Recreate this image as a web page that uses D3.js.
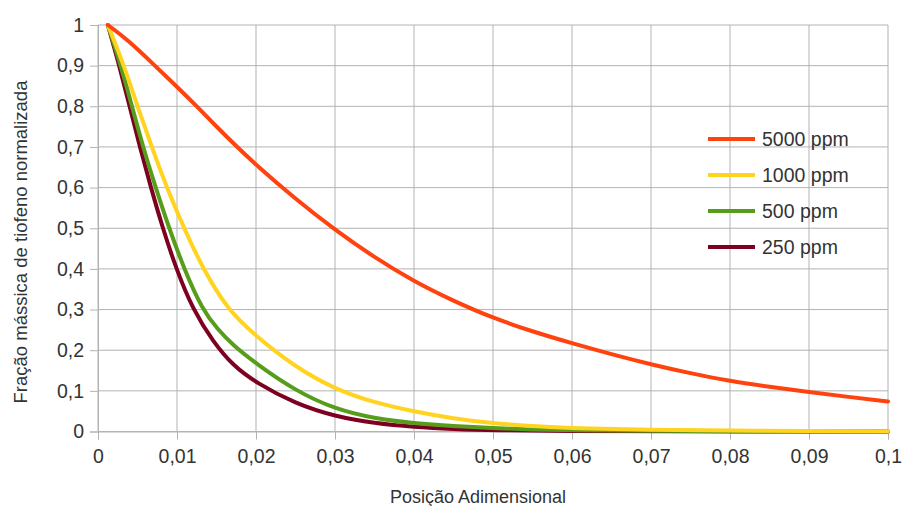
<!DOCTYPE html>
<html>
<head>
<meta charset="utf-8">
<script src="https://cdn.jsdelivr.net/npm/d3@7"></script>
<style>
  html, body { margin: 0; padding: 0; background: #ffffff; }
  svg { display: block; }
  text { font-family: "Liberation Sans", Arial, sans-serif; fill: #333333; }
</style>
</head>
<body>
<svg id="chart" width="903" height="506"></svg>
<script>
// ---- data ----
const seriesNames = ["5000 ppm", "1000 ppm", "500 ppm", "250 ppm"];
const seriesColors = ["#ff420e", "#ffd320", "#579d1c", "#7e0021"];

const x5000 = [0.00125, 0.0038, 0.0072, 0.01, 0.0125, 0.015, 0.0175, 0.02, 0.025, 0.03, 0.035, 0.04, 0.045, 0.05, 0.055, 0.06, 0.065, 0.07, 0.075, 0.08, 0.085, 0.09, 0.095, 0.1];
const y5000 = [1.0, 0.963, 0.90, 0.848, 0.80, 0.750, 0.702, 0.656, 0.572, 0.496, 0.428, 0.369, 0.321, 0.279, 0.246, 0.217, 0.190, 0.165, 0.143, 0.124, 0.110, 0.097, 0.085, 0.074];

const x1000 = [0.00125, 0.0033, 0.005, 0.0068, 0.0087, 0.011, 0.0133, 0.0164, 0.02, 0.025, 0.03, 0.035, 0.04, 0.045, 0.05, 0.055, 0.06, 0.07, 0.08, 0.09, 0.1];
const y1000 = [1.0, 0.90, 0.80, 0.70, 0.60, 0.495, 0.40, 0.30, 0.234, 0.158, 0.104, 0.071, 0.049, 0.032, 0.020, 0.013, 0.008, 0.004, 0.002, 0.001, 0.0005];

const x500 = [0.00125, 0.0029, 0.0043, 0.0057, 0.0073, 0.009, 0.0109, 0.0132, 0.0152, 0.0171, 0.02, 0.025, 0.03, 0.035, 0.04, 0.045, 0.05, 0.055, 0.06, 0.07, 0.08, 0.1];
const y500 = [1.0, 0.90, 0.80, 0.70, 0.60, 0.50, 0.40, 0.30, 0.25, 0.212, 0.167, 0.100, 0.055, 0.032, 0.020, 0.013, 0.008, 0.005, 0.003, 0.0015, 0.0007, 0.0002];

const x250 = [0.00125, 0.0027, 0.004, 0.0053, 0.0067, 0.0082, 0.0099, 0.012, 0.0146, 0.0171, 0.02, 0.025, 0.03, 0.035, 0.04, 0.045, 0.05, 0.06, 0.07, 0.1];
const y250 = [1.0, 0.90, 0.80, 0.70, 0.60, 0.50, 0.40, 0.30, 0.22, 0.162, 0.120, 0.068, 0.037, 0.020, 0.011, 0.006, 0.003, 0.001, 0.0004, 0.0001];

const xTicks = [0, 0.01, 0.02, 0.03, 0.04, 0.05, 0.06, 0.07, 0.08, 0.09, 0.1];
const xTickLabels = ["0", "0,01", "0,02", "0,03", "0,04", "0,05", "0,06", "0,07", "0,08", "0,09", "0,1"];
const yTicks = [0, 0.1, 0.2, 0.3, 0.4, 0.5, 0.6, 0.7, 0.8, 0.9, 1];
const yTickLabels = ["0", "0,1", "0,2", "0,3", "0,4", "0,5", "0,6", "0,7", "0,8", "0,9", "1"];

const xTitle = "Posição Adimensional";
const yTitle = "Fração mássica de tiofeno normalizada";

// ---- build ----
const seriesX = [x5000, x1000, x500, x250];
const seriesY = [y5000, y1000, y500, y250];
const series = seriesNames.map((name, i) => ({
  name, color: seriesColors[i],
  points: seriesX[i].map((xv, j) => ({ x: xv, y: seriesY[i][j] }))
}));

const svg = d3.select("#chart");
const plotLeft = 98, plotRight = 888, plotTop = 25, plotBottom = 431.5;

const x = d3.scaleLinear().domain([0, 0.1]).range([plotLeft, plotRight]);
const y = d3.scaleLinear().domain([0, 1]).range([plotBottom, plotTop]);

const gridColor = "#b3b3b3";

// grid
const grid = svg.append("g");
grid.selectAll("line.v").data(xTicks).join("line").attr("class", "v")
  .attr("x1", d => x(d)).attr("x2", d => x(d))
  .attr("y1", plotTop).attr("y2", plotBottom)
  .attr("stroke", gridColor).attr("stroke-width", 1);
grid.selectAll("line.h").data(yTicks).join("line").attr("class", "h")
  .attr("x1", plotLeft).attr("x2", plotRight)
  .attr("y1", d => y(d)).attr("y2", d => y(d))
  .attr("stroke", gridColor).attr("stroke-width", 1);

// axes
const xAxis = d3.axisBottom(x).tickValues(xTicks)
  .tickFormat((d, i) => xTickLabels[i]).tickSize(8).tickPadding(10);
const yAxis = d3.axisLeft(y).tickValues(yTicks)
  .tickFormat((d, i) => yTickLabels[i]).tickSize(8).tickPadding(6);

const gx = svg.append("g").attr("transform", `translate(0,${plotBottom})`).call(xAxis);
const gy = svg.append("g").attr("transform", `translate(${plotLeft},0)`).call(yAxis);
[gx, gy].forEach(g => {
  g.select(".domain").attr("stroke", gridColor);
  g.selectAll(".tick line").attr("stroke", gridColor);
  g.selectAll(".tick text")
    .style("font-family", "'Liberation Sans', Arial, sans-serif")
    .style("font-size", "19.5px")
    .attr("fill", "#333333");
});

// lines (drawn in reverse so that 5000 ppm is on top)
const line = d3.line().x(d => x(d.x)).y(d => y(d.y)).curve(d3.curveBasis);
svg.append("g").selectAll("path").data(series.slice().reverse()).join("path")
  .attr("d", d => line(d.points))
  .attr("fill", "none")
  .attr("stroke", d => d.color)
  .attr("stroke-width", 4)
  .attr("stroke-linejoin", "round")
  .attr("stroke-linecap", "round");

// legend
const legend = svg.append("g");
const legY = d3.scaleLinear().domain([0, 1]).range([139, 175]);
const li = legend.selectAll("g").data(series).join("g")
  .attr("transform", (d, i) => `translate(708,${legY(i)})`);
li.append("line").attr("x1", 0).attr("x2", 47).attr("y1", 0).attr("y2", 0)
  .attr("stroke", d => d.color).attr("stroke-width", 4);
li.append("text").attr("x", 54).attr("y", 0).attr("dy", "0.35em")
  .style("font-size", "19.5px").text(d => d.name);

// titles
svg.append("text").attr("x", 478).attr("y", 503)
  .attr("text-anchor", "middle").style("font-size", "18px").text(xTitle);
svg.append("text")
  .attr("transform", "translate(27,242) rotate(-90)")
  .attr("text-anchor", "middle").style("font-size", "18.5px").text(yTitle);
</script>
</body>
</html>
